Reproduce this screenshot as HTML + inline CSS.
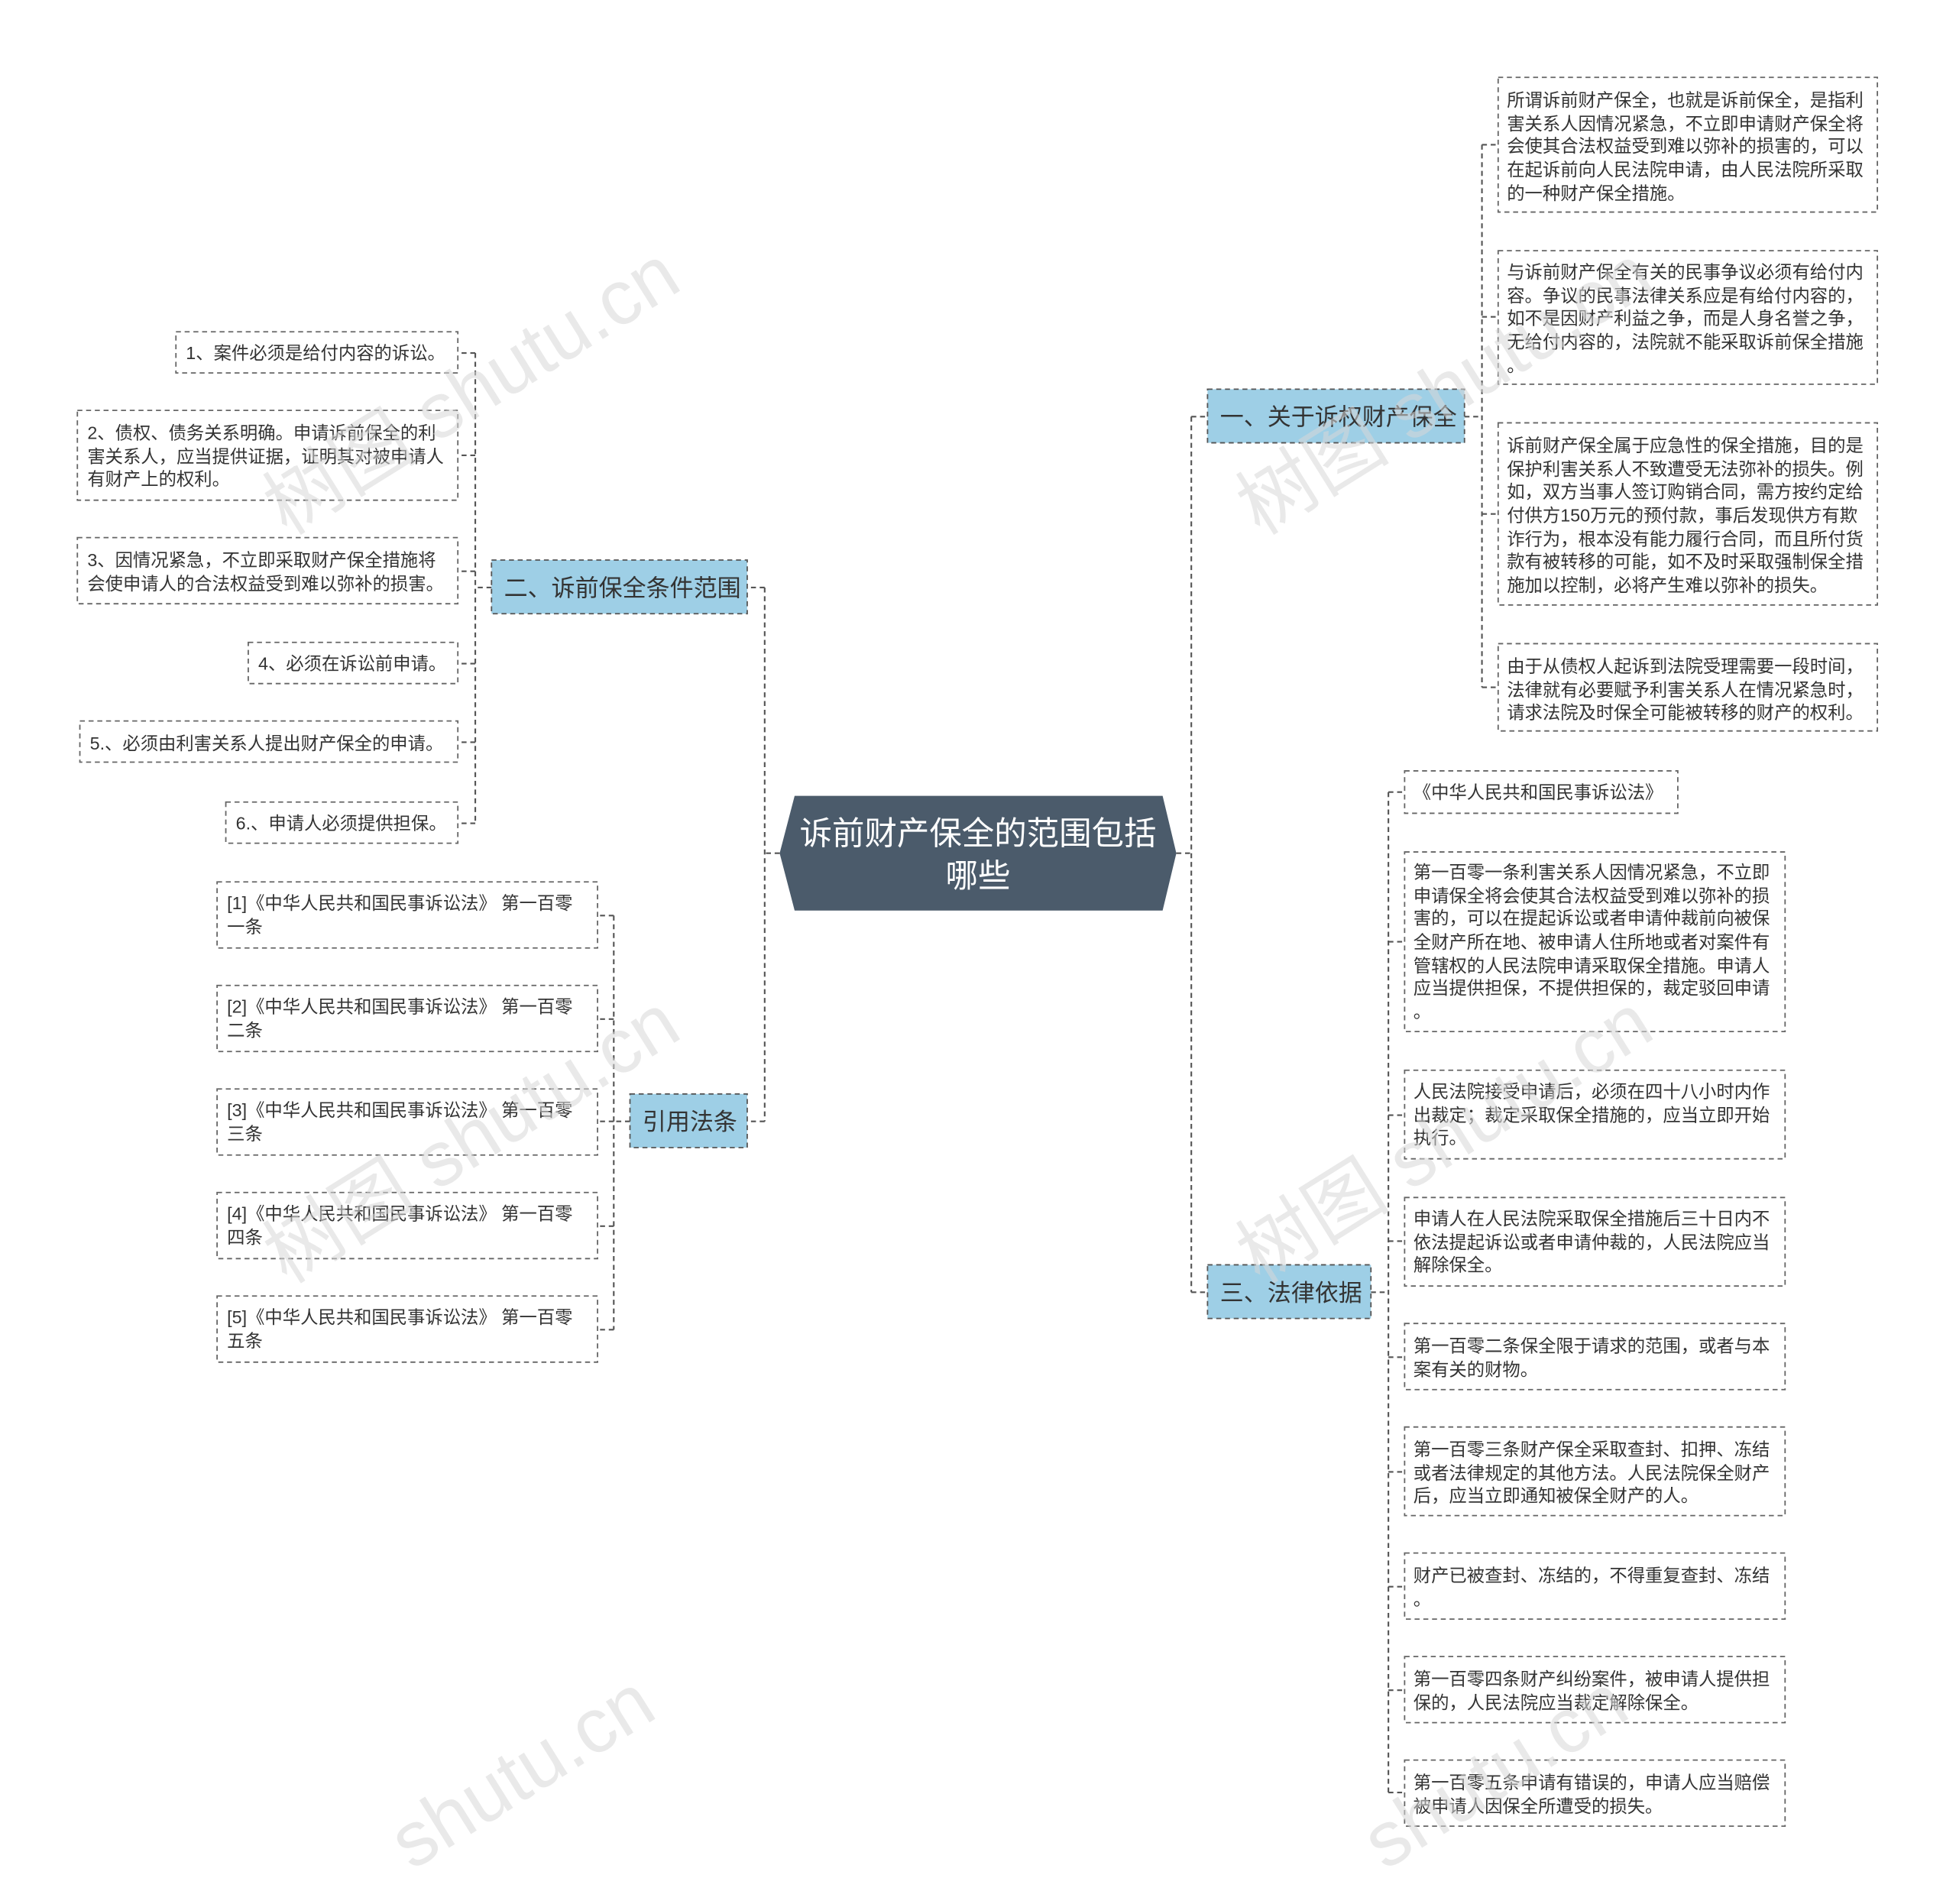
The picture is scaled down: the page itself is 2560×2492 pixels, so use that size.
<!DOCTYPE html>
<html><head><meta charset="utf-8"><style>
html,body{margin:0;padding:0;background:#fff;overflow:hidden;}
svg{display:block;}
.t{font-family:"Liberation Sans","Noto Sans CJK SC",sans-serif;font-size:14.3px;fill:#333;}
.b{font-family:"Liberation Sans","Noto Sans CJK SC",sans-serif;font-size:19px;fill:#333;}
.c{font-family:"Liberation Sans","Noto Sans CJK SC",sans-serif;font-size:26px;fill:#fff;}
.w{font-family:"Liberation Sans","Noto Sans CJK SC",sans-serif;font-size:62px;fill:#d8d8d8;opacity:.55;}
.leaf{fill:#fff;stroke:#666;stroke-width:1.1;stroke-dasharray:4 3;}
.br{fill:#9ecfe6;stroke:#555;stroke-width:1.1;stroke-dasharray:4 3;}
.ln{fill:none;stroke:#555;stroke-width:1.3;stroke-dasharray:4 3;}
</style></head><body>
<svg width="2560" height="2492" viewBox="0 0 1568 1526.4" xmlns="http://www.w3.org/2000/svg">
<path class="ln" d="M943 684 H955 M955 334 V1036 M955 334 H968 M955 1036 H968"/>
<path class="ln" d="M625 684 H613 M613 471 V899 M613 471 H599 M613 899 H599"/>
<path class="ln" d="M1174 334 H1188 M1188 116 V551 M1188 116 H1201 M1188 254 H1201 M1188 412 H1201 M1188 551 H1201"/>
<path class="ln" d="M1099 1036 H1113 M1113 635 V1437 M1113 635 H1126 M1113 755 H1126 M1113 894 H1126 M1113 995 H1126 M1113 1088 H1126 M1113 1180 H1126 M1113 1272 H1126 M1113 1355 H1126 M1113 1437 H1126"/>
<path class="ln" d="M394 471 H381 M381 283 V660 M381 283 H367 M381 365 H367 M381 458 H367 M381 532 H367 M381 595 H367 M381 660 H367"/>
<path class="ln" d="M505 899 H492 M492 734 V1066 M492 734 H479 M492 817 H479 M492 899 H479 M492 983 H479 M492 1066 H479"/>

<polygon points="637,638 932,638 943,684 932,730 637,730 625,684" fill="#4b5b6b"/>
<text class="c" x="784" y="677" text-anchor="middle">诉前财产保全的范围包括</text>
<text class="c" x="784" y="711" text-anchor="middle">哪些</text>

<rect class="br" x="968" y="312" width="206" height="43"/>
<text class="b" x="978" y="341">一、关于诉权财产保全</text>
<rect class="br" x="968" y="1014" width="131" height="43"/>
<text class="b" x="978" y="1043">三、法律依据</text>
<rect class="br" x="394" y="449" width="205" height="43"/>
<text class="b" x="404" y="478">二、诉前保全条件范围</text>
<rect class="br" x="505" y="877" width="94" height="43"/>
<text class="b" x="515" y="906">引用法条</text>

<rect class="leaf" x="1201" y="62" width="304" height="108"/>
<text class="t"><tspan x="1208" y="85">所谓诉前财产保全，也就是诉前保全，是指利</tspan><tspan x="1208" y="104">害关系人因情况紧急，不立即申请财产保全将</tspan><tspan x="1208" y="122">会使其合法权益受到难以弥补的损害的，可以</tspan><tspan x="1208" y="141">在起诉前向人民法院申请，由人民法院所采取</tspan><tspan x="1208" y="160">的一种财产保全措施。</tspan></text>
<rect class="leaf" x="1201" y="201" width="304" height="107"/>
<text class="t"><tspan x="1208" y="223">与诉前财产保全有关的民事争议必须有给付内</tspan><tspan x="1208" y="242">容。争议的民事法律关系应是有给付内容的，</tspan><tspan x="1208" y="260">如不是因财产利益之争，而是人身名誉之争，</tspan><tspan x="1208" y="279">无给付内容的，法院就不能采取诉前保全措施</tspan><tspan x="1208" y="298">。</tspan></text>
<rect class="leaf" x="1201" y="339" width="304" height="146"/>
<text class="t"><tspan x="1208" y="362">诉前财产保全属于应急性的保全措施，目的是</tspan><tspan x="1208" y="381">保护利害关系人不致遭受无法弥补的损失。例</tspan><tspan x="1208" y="399">如，双方当事人签订购销合同，需方按约定给</tspan><tspan x="1208" y="418">付供方150万元的预付款，事后发现供方有欺</tspan><tspan x="1208" y="437">诈行为，根本没有能力履行合同，而且所付货</tspan><tspan x="1208" y="455">款有被转移的可能，如不及时采取强制保全措</tspan><tspan x="1208" y="474">施加以控制，必将产生难以弥补的损失。</tspan></text>
<rect class="leaf" x="1201" y="516" width="304" height="70"/>
<text class="t"><tspan x="1208" y="539">由于从债权人起诉到法院受理需要一段时间，</tspan><tspan x="1208" y="558">法律就有必要赋予利害关系人在情况紧急时，</tspan><tspan x="1208" y="576">请求法院及时保全可能被转移的财产的权利。</tspan></text>

<rect class="leaf" x="1126" y="618" width="219" height="34"/>
<text class="t" x="1133" y="640">《中华人民共和国民事诉讼法》</text>
<rect class="leaf" x="1126" y="683" width="305" height="144"/>
<text class="t"><tspan x="1133" y="704">第一百零一条利害关系人因情况紧急，不立即</tspan><tspan x="1133" y="723">申请保全将会使其合法权益受到难以弥补的损</tspan><tspan x="1133" y="741">害的，可以在提起诉讼或者申请仲裁前向被保</tspan><tspan x="1133" y="760">全财产所在地、被申请人住所地或者对案件有</tspan><tspan x="1133" y="779">管辖权的人民法院申请采取保全措施。申请人</tspan><tspan x="1133" y="797">应当提供担保，不提供担保的，裁定驳回申请</tspan><tspan x="1133" y="816">。</tspan></text>
<rect class="leaf" x="1126" y="858" width="305" height="71"/>
<text class="t"><tspan x="1133" y="880">人民法院接受申请后，必须在四十八小时内作</tspan><tspan x="1133" y="899">出裁定；裁定采取保全措施的，应当立即开始</tspan><tspan x="1133" y="917">执行。</tspan></text>
<rect class="leaf" x="1126" y="960" width="305" height="71"/>
<text class="t"><tspan x="1133" y="982">申请人在人民法院采取保全措施后三十日内不</tspan><tspan x="1133" y="1001">依法提起诉讼或者申请仲裁的，人民法院应当</tspan><tspan x="1133" y="1019">解除保全。</tspan></text>
<rect class="leaf" x="1126" y="1061" width="305" height="53"/>
<text class="t"><tspan x="1133" y="1084">第一百零二条保全限于请求的范围，或者与本</tspan><tspan x="1133" y="1103">案有关的财物。</tspan></text>
<rect class="leaf" x="1126" y="1144" width="305" height="71"/>
<text class="t"><tspan x="1133" y="1167">第一百零三条财产保全采取查封、扣押、冻结</tspan><tspan x="1133" y="1186">或者法律规定的其他方法。人民法院保全财产</tspan><tspan x="1133" y="1204">后，应当立即通知被保全财产的人。</tspan></text>
<rect class="leaf" x="1126" y="1245" width="305" height="53"/>
<text class="t"><tspan x="1133" y="1268">财产已被查封、冻结的，不得重复查封、冻结</tspan><tspan x="1133" y="1287">。</tspan></text>
<rect class="leaf" x="1126" y="1328" width="305" height="53"/>
<text class="t"><tspan x="1133" y="1351">第一百零四条财产纠纷案件，被申请人提供担</tspan><tspan x="1133" y="1370">保的，人民法院应当裁定解除保全。</tspan></text>
<rect class="leaf" x="1126" y="1411" width="305" height="53"/>
<text class="t"><tspan x="1133" y="1434">第一百零五条申请有错误的，申请人应当赔偿</tspan><tspan x="1133" y="1453">被申请人因保全所遭受的损失。</tspan></text>

<rect class="leaf" x="141" y="266" width="226" height="33"/>
<text class="t" x="149" y="288">1、案件必须是给付内容的诉讼。</text>
<rect class="leaf" x="62" y="329" width="305" height="72"/>
<text class="t"><tspan x="70" y="352">2、债权、债务关系明确。申请诉前保全的利</tspan><tspan x="70" y="371">害关系人，应当提供证据，证明其对被申请人</tspan><tspan x="70" y="389">有财产上的权利。</tspan></text>
<rect class="leaf" x="62" y="431" width="305" height="53"/>
<text class="t"><tspan x="70" y="454">3、因情况紧急，不立即采取财产保全措施将</tspan><tspan x="70" y="473">会使申请人的合法权益受到难以弥补的损害。</tspan></text>
<rect class="leaf" x="199" y="515" width="168" height="33"/>
<text class="t" x="207" y="537">4、必须在诉讼前申请。</text>
<rect class="leaf" x="64" y="578" width="303" height="33"/>
<text class="t" x="72" y="601">5.、必须由利害关系人提出财产保全的申请。</text>
<rect class="leaf" x="181" y="643" width="186" height="33"/>
<text class="t" x="189" y="665">6.、申请人必须提供担保。</text>

<rect class="leaf" x="174" y="707" width="305" height="53"/>
<text class="t"><tspan x="182" y="729">[1]《中华人民共和国民事诉讼法》 第一百零</tspan><tspan x="182" y="748">一条</tspan></text>
<rect class="leaf" x="174" y="790" width="305" height="53"/>
<text class="t"><tspan x="182" y="812">[2]《中华人民共和国民事诉讼法》 第一百零</tspan><tspan x="182" y="831">二条</tspan></text>
<rect class="leaf" x="174" y="873" width="305" height="53"/>
<text class="t"><tspan x="182" y="895">[3]《中华人民共和国民事诉讼法》 第一百零</tspan><tspan x="182" y="914">三条</tspan></text>
<rect class="leaf" x="174" y="956" width="305" height="53"/>
<text class="t"><tspan x="182" y="978">[4]《中华人民共和国民事诉讼法》 第一百零</tspan><tspan x="182" y="997">四条</tspan></text>
<rect class="leaf" x="174" y="1039" width="305" height="53"/>
<text class="t"><tspan x="182" y="1061">[5]《中华人民共和国民事诉讼法》 第一百零</tspan><tspan x="182" y="1080">五条</tspan></text>

<text class="w" transform="translate(230,430) rotate(-32)">树图 shutu.cn</text>
<text class="w" transform="translate(1010,430) rotate(-32)">树图 shutu.cn</text>
<text class="w" transform="translate(230,1030) rotate(-32)">树图 shutu.cn</text>
<text class="w" transform="translate(1010,1030) rotate(-32)">树图 shutu.cn</text>
<text class="w" transform="translate(330,1500) rotate(-32)">shutu.cn</text>
<text class="w" transform="translate(1110,1500) rotate(-32)">shutu.cn</text>
</svg>
</body></html>
